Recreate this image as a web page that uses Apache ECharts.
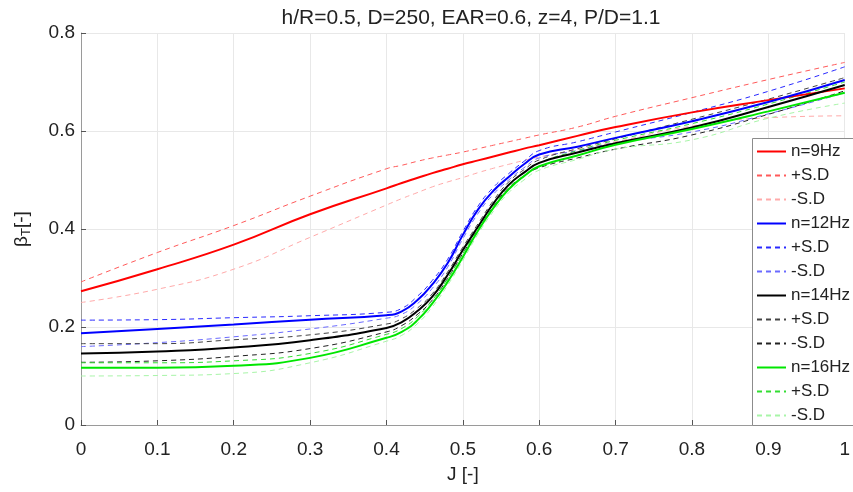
<!DOCTYPE html>
<html>
<head>
<meta charset="utf-8">
<script src="https://cdn.jsdelivr.net/npm/echarts@6/dist/echarts.min.js"></script>
<style>
  html, body { margin: 0; padding: 0; background: #fff; }
  #chart { width: 853px; height: 492px; }
</style>
</head>
<body>
<div id="chart"></div>
<script>
// Advance ratio J [-] at which every curve is sampled
const J = [0, 0.1, 0.2, 0.3, 0.4, 0.42, 0.44, 0.46, 0.48, 0.5, 0.52, 0.54, 0.56, 0.58, 0.6, 0.65, 0.7, 0.8, 0.9, 1.0];

// n = 9 Hz: mean and +/- standard deviation
const n9 = [0.273, 0.318, 0.368, 0.430, 0.483, 0.494, 0.504, 0.514, 0.523, 0.532, 0.540, 0.548, 0.556, 0.564, 0.571, 0.590, 0.608, 0.638, 0.663, 0.687];
const n9p = [0.292, 0.352, 0.407, 0.467, 0.523, 0.530, 0.538, 0.545, 0.551, 0.557, 0.564, 0.571, 0.578, 0.585, 0.592, 0.608, 0.630, 0.668, 0.705, 0.740];
const n9m = [0.250, 0.277, 0.318, 0.383, 0.449, 0.462, 0.474, 0.486, 0.496, 0.505, 0.515, 0.524, 0.532, 0.540, 0.547, 0.562, 0.578, 0.610, 0.627, 0.631];

// n = 12 Hz
const n12 = [0.187, 0.196, 0.205, 0.215, 0.224, 0.232, 0.254, 0.287, 0.330, 0.388, 0.440, 0.478, 0.506, 0.532, 0.552, 0.568, 0.586, 0.620, 0.659, 0.704];
const n12p = [0.214, 0.215, 0.219, 0.223, 0.230, 0.238, 0.262, 0.295, 0.338, 0.395, 0.447, 0.485, 0.513, 0.538, 0.560, 0.578, 0.598, 0.638, 0.681, 0.731];
const n12m = [0.160, 0.168, 0.180, 0.196, 0.218, 0.226, 0.247, 0.279, 0.322, 0.380, 0.432, 0.471, 0.500, 0.525, 0.545, 0.560, 0.576, 0.598, 0.635, 0.678];

// n = 14 Hz
const n14 = [0.146, 0.150, 0.158, 0.173, 0.198, 0.210, 0.232, 0.262, 0.306, 0.357, 0.405, 0.452, 0.490, 0.515, 0.535, 0.556, 0.575, 0.607, 0.649, 0.694];
const n14p = [0.166, 0.166, 0.174, 0.184, 0.206, 0.217, 0.238, 0.268, 0.312, 0.363, 0.411, 0.458, 0.496, 0.521, 0.541, 0.564, 0.584, 0.624, 0.665, 0.709];
const n14m = [0.128, 0.131, 0.140, 0.156, 0.190, 0.203, 0.225, 0.255, 0.299, 0.350, 0.399, 0.446, 0.484, 0.508, 0.525, 0.545, 0.563, 0.592, 0.634, 0.682];

// n = 16 Hz
const n16 = [0.117, 0.117, 0.121, 0.137, 0.178, 0.190, 0.213, 0.248, 0.292, 0.343, 0.397, 0.443, 0.481, 0.508, 0.528, 0.550, 0.572, 0.604, 0.640, 0.678];
const n16p = [0.127, 0.127, 0.131, 0.146, 0.185, 0.197, 0.220, 0.255, 0.299, 0.350, 0.404, 0.450, 0.488, 0.515, 0.535, 0.560, 0.581, 0.615, 0.655, 0.700];
const n16m = [0.100, 0.101, 0.105, 0.127, 0.171, 0.183, 0.206, 0.241, 0.285, 0.336, 0.390, 0.436, 0.474, 0.500, 0.520, 0.542, 0.563, 0.582, 0.626, 0.657];

// Axis tick values
const xTicks = [0, 0.1, 0.2, 0.3, 0.4, 0.5, 0.6, 0.7, 0.8, 0.9, 1];
const yTicks = [0, 0.2, 0.4, 0.6, 0.8];

const FONT = '"Liberation Sans", Arial, Helvetica, sans-serif';

// Curve definitions: id, legend text, values, colour, solid/dashed
const curves = [
  { id: 'n9',   label: 'n=9Hz',  data: n9,   color: '#ff0000', dashed: false },
  { id: 'n9p',  label: '+S.D',   data: n9p,  color: '#ff5a5a', dashed: true },
  { id: 'n9m',  label: '-S.D',   data: n9m,  color: '#ffaaaa', dashed: true },
  { id: 'n12',  label: 'n=12Hz', data: n12,  color: '#0000ff', dashed: false },
  { id: 'n12p', label: '+S.D',   data: n12p, color: '#2a2aff', dashed: true },
  { id: 'n12m', label: '-S.D',   data: n12m, color: '#6a6aff', dashed: true },
  { id: 'n14',  label: 'n=14Hz', data: n14,  color: '#000000', dashed: false },
  { id: 'n14p', label: '+S.D',   data: n14p, color: '#444444', dashed: true },
  { id: 'n14m', label: '-S.D',   data: n14m, color: '#222222', dashed: true },
  { id: 'n16',  label: 'n=16Hz', data: n16,  color: '#00e600', dashed: false },
  { id: 'n16p', label: '+S.D',   data: n16p, color: '#33dd33', dashed: true },
  { id: 'n16m', label: '-S.D',   data: n16m, color: '#a8f5a8', dashed: true }
];
const labelOf = {};
curves.forEach(c => { labelOf[c.id] = c.label; });

const series = curves.map(c => ({
  name: c.id,
  type: 'line',
  data: J.map((x, i) => [x, c.data[i]]),
  smooth: 0.5,
  showSymbol: false,
  symbol: 'none',
  z: c.dashed ? 2 : 3,
  lineStyle: {
    color: c.color,
    width: c.dashed ? 1 : 2,
    type: c.dashed ? [5, 4] : 'solid'
  },
  itemStyle: { color: c.color },
  emphasis: { disabled: true }
}));

const fmt = v => String(Math.round(v * 10) / 10);

const chart = echarts.init(document.getElementById('chart'), null, { renderer: 'canvas' });
chart.setOption({
  animation: false,
  backgroundColor: '#ffffff',
  textStyle: { fontFamily: FONT },
  title: {
    text: 'h/R=0.5, D=250, EAR=0.6, z=4, P/D=1.1',
    left: 466,
    textAlign: 'center',
    top: 3,
    textStyle: { fontFamily: FONT, fontSize: 21, fontWeight: 'normal', color: '#222' }
  },
  grid: { left: 81, right: 3, top: 33, bottom: 67, containLabel: false },
  // Legend frame: runs off the right edge of the canvas
  graphic: [{
    type: 'rect',
    z: 4,
    silent: true,
    shape: { x: 752.5, y: 138.5, width: 140, height: 287 },
    style: { fill: '#ffffff', stroke: '#8c8c8c', lineWidth: 1 }
  }],
  legend: {
    orient: 'vertical',
    left: 752,
    top: 138,
    z: 5,
    data: curves.map(c => c.id),
    formatter: name => labelOf[name],
    itemWidth: 29,
    itemHeight: 14,
    itemGap: 7,
    padding: [5, 4, 3, 4],
    selectedMode: false,
    itemStyle: { opacity: 0, borderWidth: 0 },
    textStyle: { fontFamily: FONT, fontSize: 17, color: '#222' }
  },
  xAxis: {
    type: 'value',
    min: 0, max: 1, interval: 0.1,
    name: 'J [-]',
    nameLocation: 'middle',
    nameGap: 40,
    nameTextStyle: { fontFamily: FONT, fontSize: 19, color: '#222' },
    axisLine: { show: true, lineStyle: { color: '#9a9a9a', width: 1 } },
    axisTick: { show: true, inside: true, length: 5, lineStyle: { color: '#555' } },
    axisLabel: { margin: 15, fontSize: 19, color: '#222', fontFamily: FONT,
      formatter: v => xTicks.some(t => Math.abs(t - v) < 1e-9) ? fmt(v) : '' },
    splitLine: { show: true, lineStyle: { color: '#e8e8e8', width: 1 } }
  },
  yAxis: {
    type: 'value',
    min: 0, max: 0.8, interval: 0.2,
    name: '{b|β}{s|T}{b|[-]}',
    nameLocation: 'middle',
    nameGap: 48,
    nameRotate: 90,
    nameTextStyle: {
      fontFamily: FONT, fontSize: 19, color: '#222',
      rich: {
        b: { fontFamily: FONT, fontSize: 19, color: '#222' },
        s: { fontFamily: FONT, fontSize: 13, color: '#222', padding: [10, 0, 0, 0] }
      }
    },
    axisLine: { show: true, lineStyle: { color: '#9a9a9a', width: 1 } },
    axisTick: { show: true, inside: true, length: 5, lineStyle: { color: '#555' } },
    axisLabel: { margin: 6, fontSize: 19, color: '#222', fontFamily: FONT,
      formatter: v => yTicks.some(t => Math.abs(t - v) < 1e-9) ? fmt(v) : '' },
    splitLine: { show: true, lineStyle: { color: '#e8e8e8', width: 1 } }
  },
  series: series
});
</script>
</body>
</html>
